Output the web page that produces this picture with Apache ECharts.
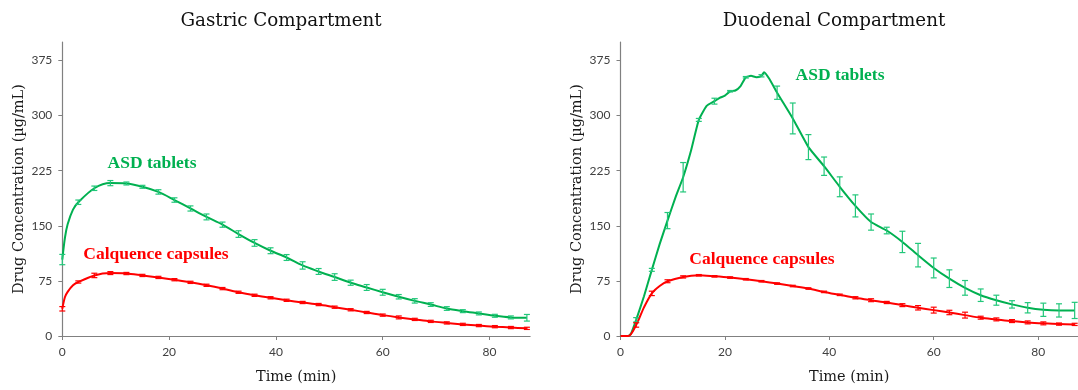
<!DOCTYPE html>
<html>
<head>
<meta charset="utf-8">
<script src="https://cdn.jsdelivr.net/npm/echarts@6/dist/echarts.min.js"></script>
<style>
  html, body { margin: 0; padding: 0; background: #ffffff; }
  #chart { width: 1078px; height: 390px; }
</style>
</head>
<body>
<div id="chart"></div>
<script>
// Gastric compartment: sampling times (min), mean concentration (µg/mL) and SD
const gastricTime = [0, 0.5, 1, 2, 3, 6, 9, 12, 15, 18, 21, 24, 27, 30, 33, 36, 39, 42, 45, 48, 51, 54, 57, 60, 63, 66, 69, 72, 75, 78, 81, 84, 87];
const gastricAsd = [104, 134, 152, 172, 182, 201, 208, 207.5, 203, 196, 185, 173.5, 162, 151.5, 138.7, 126.6, 116, 106.8, 96, 87.8, 80.2, 72.5, 66, 59.5, 53.4, 47.8, 42.8, 37.4, 33.8, 30.7, 27.5, 25.3, 24.8];
const gastricAsdSd = [7, null, null, null, 3, 3, 3.5, 2, 2, 3, 3, 3.5, 4, 3.5, 4.5, 4.5, 4, 4, 5, 4, 4.5, 3.5, 4, 4, 3, 3, 2.5, 2.5, 2, 2, 2, 2, 4.5];
const gastricCap = [37, 53, 60, 69, 73.5, 82.4, 85.6, 85, 82.4, 79.7, 76.6, 73, 69, 64.5, 59.5, 55.4, 52, 48.6, 45.6, 42.8, 39.2, 35.7, 32, 28.4, 25.3, 22.6, 19.9, 17.8, 15.8, 14.2, 12.7, 11.5, 10.4];
const gastricCapSd = [3, null, null, null, 1.5, 3, 2, 1.5, 1.5, 1.5, 1.5, 1.5, 1.5, 1.5, 1.5, 1.5, 1.5, 1.5, 1.5, 1.5, 1.5, 1.5, 1.5, 1.5, 2, 1.5, 1.5, 1.5, 1.5, 1.5, 1.5, 1.5, 1.5];

// Duodenal compartment: ASD tablets
const duodenalAsdTime = [0, 1.5, 2, 3, 4.5, 6, 7.5, 9, 10.5, 12, 13.5, 15, 16.5, 18, 19, 20, 21, 22, 23, 24, 25, 26, 27, 27.5, 28.5, 30, 33, 36, 39, 42, 45, 48, 51, 54, 57, 60, 63, 66, 69, 72, 75, 78, 81, 84, 87];
const duodenalAsd = [0, 0, 3, 22, 54, 90, 125, 157, 188, 216, 252, 294, 313, 319.5, 324, 327, 333, 334, 340, 352, 354, 352, 354, 359, 350, 331, 296, 257, 231, 203, 177, 155, 143.5, 128, 110, 92.6, 78, 65.5, 55.5, 48.7, 43, 38.4, 35.7, 34.8, 34.8];
const duodenalAsdSd = [null, null, null, 3, null, 2, null, 11, null, 20, null, 2, null, 4, null, null, 1, null, null, 1, null, null, 1.5, null, null, 9, 21, 17, 12.5, 13.5, 15, 11, 4.5, 14.5, 16, 13.5, 12, 10, 8.5, 6.8, 5, 7, 9, 9, 11];

// Duodenal compartment: Calquence capsules
const duodenalCapTime = [0, 1.5, 3, 4.5, 6, 7.5, 9, 12, 15, 18, 21, 24, 27, 30, 33, 36, 39, 42, 45, 48, 51, 54, 57, 60, 63, 66, 69, 72, 75, 78, 81, 84, 87];
const duodenalCap = [0, 0, 15, 39, 58, 68, 74.5, 80.4, 82.6, 81.2, 79.5, 77.2, 74.5, 71.3, 68, 64.6, 60, 56, 52, 48.7, 45.6, 42, 38.4, 35.2, 32, 28.4, 24.9, 22.6, 20.3, 18.5, 17.2, 16.2, 15.8];
const duodenalCapSd = [null, null, 3, null, 3, null, 2, 1.5, 1, 1, 1, 1, 1, 1, 1, 1, 1, 1, 1.5, 2, 1.5, 2, 3, 4, 3, 4, 2, 2, 2, 2, 2, 1.5, 1.5];

// Axis ticks and labels
const timeTicks = [0, 20, 40, 60, 80];
const concTicks = [0, 75, 150, 225, 300, 375];

const titles = ['Gastric Compartment', 'Duodenal Compartment'];
const seriesNames = ['ASD tablets', 'Calquence capsules'];

const GREEN = '#00b050';
const GREEN_BAR = '#22c77a';
const RED = '#ff0000';
const SERIF = '"DejaVu Serif", serif';
const BOLD_SERIF = '"Liberation Serif", "Times New Roman", serif';

function pairs(t, v) { return t.map((x, i) => [x, v[i]]); }
function bars(t, v, sd) {
  const out = [];
  t.forEach((x, i) => { if (sd[i] != null) out.push([x, v[i] - sd[i], v[i] + sd[i]]); });
  return out;
}

function renderErrorBar(params, api) {
  const x = api.value(0);
  const top = api.coord([x, api.value(2)]);
  const bot = api.coord([x, api.value(1)]);
  const w = 3;
  const style = { stroke: api.visual('color'), lineWidth: 1.2, fill: null };
  return {
    type: 'group',
    children: [
      { type: 'line', shape: { x1: top[0], y1: top[1], x2: bot[0], y2: bot[1] }, style },
      { type: 'line', shape: { x1: top[0] - w, y1: top[1], x2: top[0] + w, y2: top[1] }, style },
      { type: 'line', shape: { x1: bot[0] - w, y1: bot[1], x2: bot[0] + w, y2: bot[1] }, style }
    ]
  };
}

function lineSeries(name, idx, data, color, smooth) {
  return {
    name, type: 'line', xAxisIndex: idx, yAxisIndex: idx, data,
    showSymbol: false, smooth,
    lineStyle: { color, width: 2 }, itemStyle: { color }, z: 3, silent: true
  };
}
function errSeries(name, idx, data, color) {
  return {
    name, type: 'custom', xAxisIndex: idx, yAxisIndex: idx, data,
    renderItem: renderErrorBar, encode: { x: 0, y: [1, 2] },
    itemStyle: { color }, z: 4, silent: true
  };
}

const axisLineStyle = { lineStyle: { color: '#808080', width: 1.2 } };
function xAxis(idx) {
  return {
    type: 'value', gridIndex: idx, min: 0, max: 87.6,
    name: 'Time (min)', nameLocation: 'middle', nameGap: 34,
    nameTextStyle: { fontFamily: SERIF, fontSize: 14.5, color: '#1a1a1a' },
    axisLine: axisLineStyle,
    axisTick: { show: true, length: 4, inside: false, customValues: timeTicks, lineStyle: { color: '#808080' } },
    axisLabel: { customValues: timeTicks, margin: 10, fontFamily: 'Lato', fontSize: 12, color: '#404040' },
    splitLine: { show: false }
  };
}
function yAxis(idx) {
  return {
    type: 'value', gridIndex: idx, min: 0, max: 400,
    name: 'Drug Concentration (µg/mL)', nameLocation: 'middle', nameGap: 36,
    nameTextStyle: { fontFamily: SERIF, fontSize: 14.5, color: '#1a1a1a' },
    axisLine: { show: true, ...axisLineStyle },
    axisTick: { show: true, length: 4, customValues: concTicks, lineStyle: { color: '#808080' } },
    axisLabel: { customValues: concTicks, margin: 10, fontFamily: 'Lato', fontSize: 12, color: '#404040' },
    splitLine: { show: false }
  };
}

const chart = echarts.init(document.getElementById('chart'), null, { renderer: 'canvas' });
chart.setOption({
  backgroundColor: '#ffffff',
  animation: false,
  grid: [
    { left: 62.3, top: 42, width: 467.8, height: 295.7 },
    { left: 620.5, top: 42, width: 457.3, height: 295.7 }
  ],
  xAxis: [xAxis(0), xAxis(1)],
  yAxis: [yAxis(0), yAxis(1)],
  series: [
    lineSeries(seriesNames[0], 0, pairs(gastricTime, gastricAsd), GREEN, 0.3),
    lineSeries(seriesNames[1], 0, pairs(gastricTime, gastricCap), RED, 0.3),
    errSeries(seriesNames[0], 0, bars(gastricTime, gastricAsd, gastricAsdSd), GREEN_BAR),
    errSeries(seriesNames[1], 0, bars(gastricTime, gastricCap, gastricCapSd), RED),
    lineSeries(seriesNames[0], 1, pairs(duodenalAsdTime, duodenalAsd), GREEN, 0.15),
    lineSeries(seriesNames[1], 1, pairs(duodenalCapTime, duodenalCap), RED, 0.3),
    errSeries(seriesNames[0], 1, bars(duodenalAsdTime, duodenalAsd, duodenalAsdSd), GREEN_BAR),
    errSeries(seriesNames[1], 1, bars(duodenalCapTime, duodenalCap, duodenalCapSd), RED)
  ],
  graphic: [
    { type: 'text', x: 281, y: 21, style: { text: titles[0], font: '18.3px ' + SERIF, fill: '#111', textAlign: 'center', textVerticalAlign: 'middle' } },
    { type: 'text', x: 834, y: 21, style: { text: titles[1], font: '18.3px ' + SERIF, fill: '#111', textAlign: 'center', textVerticalAlign: 'middle' } },
    { type: 'text', x: 152, y: 163, style: { text: seriesNames[0], font: 'bold 17.5px ' + BOLD_SERIF, fill: GREEN, textAlign: 'center', textVerticalAlign: 'middle' } },
    { type: 'text', x: 156, y: 254, style: { text: 'Calquence capsules', font: 'bold 17.5px ' + BOLD_SERIF, fill: RED, textAlign: 'center', textVerticalAlign: 'middle' } },
    { type: 'text', x: 840, y: 75, style: { text: seriesNames[0], font: 'bold 17.5px ' + BOLD_SERIF, fill: GREEN, textAlign: 'center', textVerticalAlign: 'middle' } },
    { type: 'text', x: 762, y: 259, style: { text: 'Calquence capsules', font: 'bold 17.5px ' + BOLD_SERIF, fill: RED, textAlign: 'center', textVerticalAlign: 'middle' } }
  ]
});
</script>
</body>
</html>
